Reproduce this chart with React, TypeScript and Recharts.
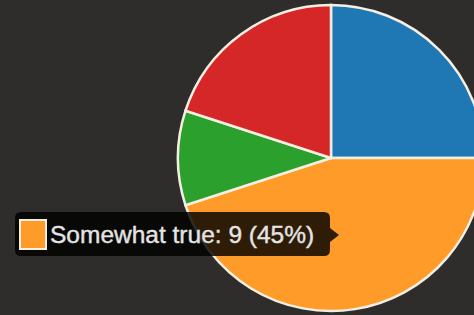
import React from "react";
import { PieChart, Pie, Cell } from "recharts";

const categories = ["Very true", "Somewhat true", "Not very true", "Not at all true"];
const values = [5, 9, 2, 4];
const colors = ["#1f77b4", "#ff9c29", "#2ca02c", "#d62728"];

const data = categories.map((name, i) => ({ name, value: values[i] }));
const total = values.reduce((a, b) => a + b, 0);
const activeIndex = 1;
const tipText = `${categories[activeIndex]}: ${values[activeIndex]} (${Math.round((values[activeIndex] / total) * 100)}%)`;

export default function App() {
  return (
    <div
      style={{
        position: "fixed",
        left: 0,
        top: 0,
        width: 474,
        height: 315,
        background: "#2e2d2b",
        overflow: "hidden",
      }}
    >
      <PieChart width={474} height={315} margin={{ top: 0, right: 0, bottom: 0, left: 0 }}>
        <Pie
          data={data}
          dataKey="value"
          nameKey="name"
          cx={331}
          cy={158}
          outerRadius={153}
          startAngle={90}
          endAngle={-270}
          stroke="#f4efe2"
          strokeWidth={2.5}
          isAnimationActive={false}
        >
          {data.map((d, i) => (
            <Cell key={d.name} fill={colors[i]} />
          ))}
        </Pie>
      </PieChart>
      <svg
        width={474}
        height={315}
        style={{ position: "absolute", left: 0, top: 0, pointerEvents: "none" }}
      >
        <path
          d="M 21 212 H 324 Q 330 212 330 218 V 228 L 339 235 L 330 242 V 250 Q 330 256 324 256 H 21 Q 15 256 15 250 V 218 Q 15 212 21 212 Z"
          fill="rgba(0,0,0,0.82)"
        />
        <rect x={20} y={220} width={26} height={29} fill={colors[activeIndex]} stroke="#f4efe2" strokeWidth={2} />
        <text
          x={50}
          y={243}
          fontFamily="'Liberation Sans', Arial, sans-serif"
          fontSize={24.5}
          fill="#e4e4e4"
          stroke="#e4e4e4"
          strokeWidth={0.4}
        >
          {tipText}
        </text>
      </svg>
    </div>
  );
}
